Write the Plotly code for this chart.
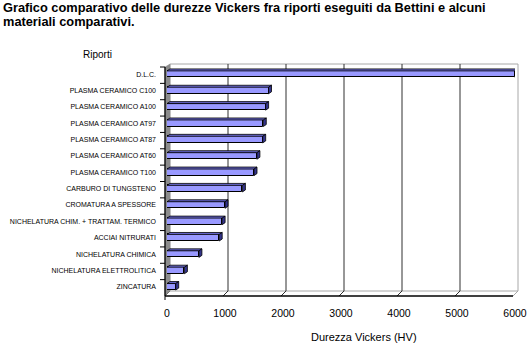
import plotly.graph_objects as go

# Data
categories = [
    "D.L.C.", "PLASMA CERAMICO C100", "PLASMA CERAMICO A100", "PLASMA CERAMICO AT97",
    "PLASMA CERAMICO AT87", "PLASMA CERAMICO AT60", "PLASMA CERAMICO T100",
    "CARBURO DI TUNGSTENO", "CROMATURA A SPESSORE", "NICHELATURA CHIM. + TRATTAM. TERMICO",
    "ACCIAI NITRURATI", "NICHELATURA CHIMICA", "NICHELATURA ELETTROLITICA", "ZINCATURA",
]
hardness_hv = [6000, 1750, 1700, 1660, 1650, 1550, 1500, 1300, 1000, 950, 900, 550, 300, 150]
x_ticks = [0, 1000, 2000, 3000, 4000, 5000, 6000]

title_lines = ["Grafico comparativo delle durezze Vickers fra riporti eseguiti da Bettini e alcuni",
               "materiali comparativi."]
y_title = "Riporti"
x_title = "Durezza Vickers (HV)"

# Plot-area geometry (pixels)
W, H = 530, 350
L, R, T, B = 167, 515, 66, 295
XMAX = 6000
n = len(categories)
xu = XMAX / (R - L)          # value units per pixel
yu = n / (B - T)             # category units per pixel

def px(x):
    return (x - L) / (R - L)

def py(y):
    return (B - y) / (B - T)

FACE = "#9999ff"
SIDE = "#33338a"
TOP = "#6666cc"
SANS = "Liberation Sans, Arial, sans-serif"

fig = go.Figure()
shapes = []

# back wall
BX, BY = 3, -4  # back plane offset (px)
shapes.append(dict(type="rect", xref="paper", yref="paper",
                   x0=px(L + BX), x1=px(R + BX), y0=py(B + BY), y1=py(T - 2),
                   line=dict(color="#a8a8a8", width=1), fillcolor="white", layer="below"))
# gridlines on back wall and floor connectors
for v in x_ticks:
    xb = L + v / xu + BX
    xf = L + v / xu - 2
    if 0 < v < XMAX:
        shapes.append(dict(type="line", xref="paper", yref="paper",
                           x0=px(xb), x1=px(xb), y0=py(B + BY), y1=py(T - 2),
                           line=dict(color="#303030", width=1), layer="below"))
    shapes.append(dict(type="line", xref="paper", yref="paper",
                       x0=px(xb), x1=px(xf), y0=py(B + BY), y1=py(B + 1),
                       line=dict(color="#303030", width=1), layer="below"))
# left wall
shapes.append(dict(type="path", xref="paper", yref="paper",
                   path=f"M {px(L-2)} {py(T+1)} L {px(L+BX)} {py(T-2)} L {px(L+BX)} {py(B+BY)} L {px(L-2)} {py(B+1)} Z",
                   fillcolor="#8c8c8c", line=dict(color="#8c8c8c", width=0.5), layer="below"))
# front axis lines
shapes.append(dict(type="line", xref="paper", yref="paper",
                   x0=px(L - 2), x1=px(L - 2), y0=py(T + 1), y1=py(B + 1),
                   line=dict(color="black", width=1.3)))
shapes.append(dict(type="line", xref="paper", yref="paper",
                   x0=px(L - 2), x1=px(R - 2), y0=py(B + 1), y1=py(B + 1),
                   line=dict(color="black", width=1.3)))
shapes.append(dict(type="line", xref="paper", yref="paper",
                   x0=px(R - 2), x1=px(R + BX), y0=py(B + 1), y1=py(B + BY),
                   line=dict(color="#a8a8a8", width=1)))
shapes.append(dict(type="line", xref="paper", yref="paper",
                   x0=px(L - 2), x1=px(L - 2), y0=py(B + 1), y1=py(B + 5),
                   line=dict(color="black", width=1)))
# category tick marks at boundaries
for i in range(n + 1):
    yb = i - 0.5 + 1 * yu
    shapes.append(dict(type="line", xref="paper", yref="y",
                       x0=px(L - 7), x1=px(L - 2), y0=yb, y1=yb,
                       line=dict(color="black", width=1)))

# bars (front faces)
bw = 0.40
ys = list(range(n))
fig.add_trace(go.Bar(x=hardness_hv, y=ys, orientation="h", width=bw,
                     marker=dict(color=FACE, line=dict(color="black", width=1)),
                     hoverinfo="x+text", text=categories, textposition="none"))

# 3D depth faces of bars
dx, dy = 3 * xu, 2 * yu
for yi, v in zip(ys, hardness_hv):
    top = yi - bw / 2
    bot = yi + bw / 2
    fig.add_trace(go.Scatter(x=[0, v, v + dx, dx, 0], y=[top, top, top - dy, top - dy, top],
                             fill="toself", fillcolor=TOP, mode="lines",
                             line=dict(color="black", width=0.8), hoverinfo="skip"))
    fig.add_trace(go.Scatter(x=[v, v + dx, v + dx, v, v], y=[top, top - dy, bot - dy, bot, top],
                             fill="toself", fillcolor=SIDE, mode="lines",
                             line=dict(color="black", width=0.8), hoverinfo="skip"))

annotations = [
    dict(text=f"<b>{title_lines[0]}</b>", xref="paper", yref="paper", x=px(2), y=py(-1),
         xanchor="left", yanchor="top", showarrow=False, borderpad=0,
         font=dict(family=SANS, size=12.8, color="black")),
    dict(text=f"<b>{title_lines[1]}</b>", xref="paper", yref="paper", x=px(2), y=py(13),
         xanchor="left", yanchor="top", showarrow=False, borderpad=0,
         font=dict(family=SANS, size=12.8, color="black")),
    dict(text=y_title, xref="paper", yref="paper", x=px(97), y=py(54),
         xanchor="center", yanchor="middle", showarrow=False,
         font=dict(family=SANS, size=10, color="black")),
    dict(text=x_title, xref="paper", yref="paper", x=px(364), y=py(337),
         xanchor="center", yanchor="middle", showarrow=False,
         font=dict(family=SANS, size=11, color="black")),
]

fig.update_layout(
    width=W, height=H,
    margin=dict(l=L, r=W - R, t=T, b=H - B, autoexpand=False),
    paper_bgcolor="white", plot_bgcolor="rgba(0,0,0,0)",
    showlegend=False, bargap=0,
    shapes=shapes, annotations=annotations,
    xaxis=dict(range=[0, XMAX], tickvals=x_ticks, showgrid=False, zeroline=False,
               showline=False, ticks="", ticklabelstandoff=10, automargin=False,
               tickfont=dict(family=SANS, size=10.5, color="black"), fixedrange=True),
    yaxis=dict(range=[n - 0.5, -0.5], tickvals=ys, ticktext=categories,
               showgrid=False, zeroline=False, showline=False, ticks="",
               ticklabelstandoff=10, automargin=False,
               tickfont=dict(family=SANS, size=7, color="black"), fixedrange=True),
)

fig.write_html("out.html")
